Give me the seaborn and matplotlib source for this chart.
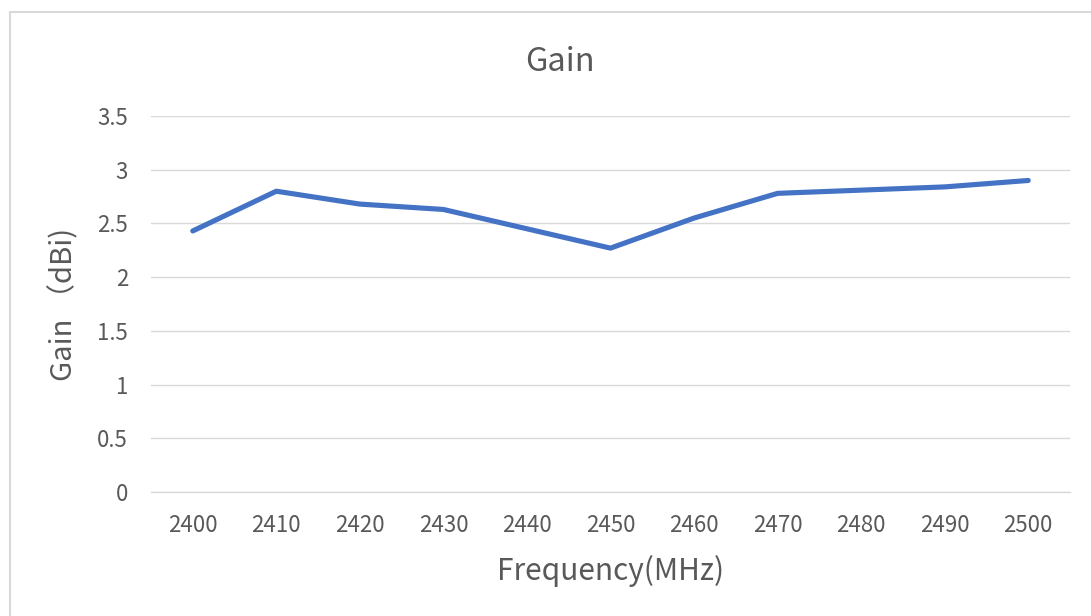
import matplotlib
matplotlib.use("Agg")
import matplotlib.pyplot as plt
import seaborn as sns
import pandas as pd
from matplotlib.lines import Line2D

frequencies = ["2400", "2410", "2420", "2430", "2440", "2450", "2460", "2470", "2480", "2490", "2500"]
gain = [2.43, 2.80, 2.68, 2.63, 2.45, 2.27, 2.55, 2.78, 2.81, 2.84, 2.90]
y_ticks = [0, 0.5, 1, 1.5, 2, 2.5, 3, 3.5]
y_tick_labels = ["0", "0.5", "1", "1.5", "2", "2.5", "3", "3.5"]

sns.set_theme(style="white")
plt.rcParams['font.family'] = ['Noto Sans CJK SC', 'DejaVu Sans']

df = pd.DataFrame({"Frequency": frequencies, "Gain": gain})

W, H = 1091, 616
fig = plt.figure(figsize=(W / 100, H / 100), dpi=100)
ax = fig.add_axes([151 / W, 1 - 492 / H, (1070 - 151) / W, (492 - 116) / H])

sns.lineplot(data=df, x="Frequency", y="Gain", ax=ax, color="#4472C4", linewidth=3.7,
             sort=False, solid_capstyle="round", solid_joinstyle="round")

ax.set_xlim(-0.5, len(frequencies) - 0.5)
ax.set_ylim(0, 3.5)
ax.set_yticks(y_ticks)
ax.set_yticklabels(y_tick_labels)
ax.grid(axis="y", color="#D9D9D9", linewidth=1)
ax.set_axisbelow(True)
for s in ["top", "right", "left"]:
    ax.spines[s].set_visible(False)
ax.spines["bottom"].set_color("#D9D9D9")
ax.spines["bottom"].set_linewidth(1)
ax.tick_params(axis="both", length=0, colors="#595959", labelsize=16)
ax.tick_params(axis="x", pad=16)
ax.tick_params(axis="y", pad=16.5)

ax_h = 492 - 116
ax_w = 1070 - 151
ax.set_title("Gain", fontsize=23.5, color="#595959", x=(560 - 151) / ax_w, y=(492 - 70) / ax_h, va="center")
ax.set_xlabel("Frequency(MHz)", fontsize=21.5, color="#595959", va="center")
ax.xaxis.set_label_coords(0.5, (492 - 571) / ax_h)
ax.set_ylabel("Gain （dBi)", fontsize=21, color="#595959", va="center")
ax.yaxis.set_label_coords((64 - 151) / ax_w, 0.5)

border_color = "#D9D9D9"
fig.add_artist(Line2D([10 / W, 10 / W], [0, 1 - 12 / H], transform=fig.transFigure, color=border_color, linewidth=1.5))
fig.add_artist(Line2D([10 / W, 1], [1 - 12 / H, 1 - 12 / H], transform=fig.transFigure, color=border_color, linewidth=1.5))

fig.savefig("out.png", dpi=100)
